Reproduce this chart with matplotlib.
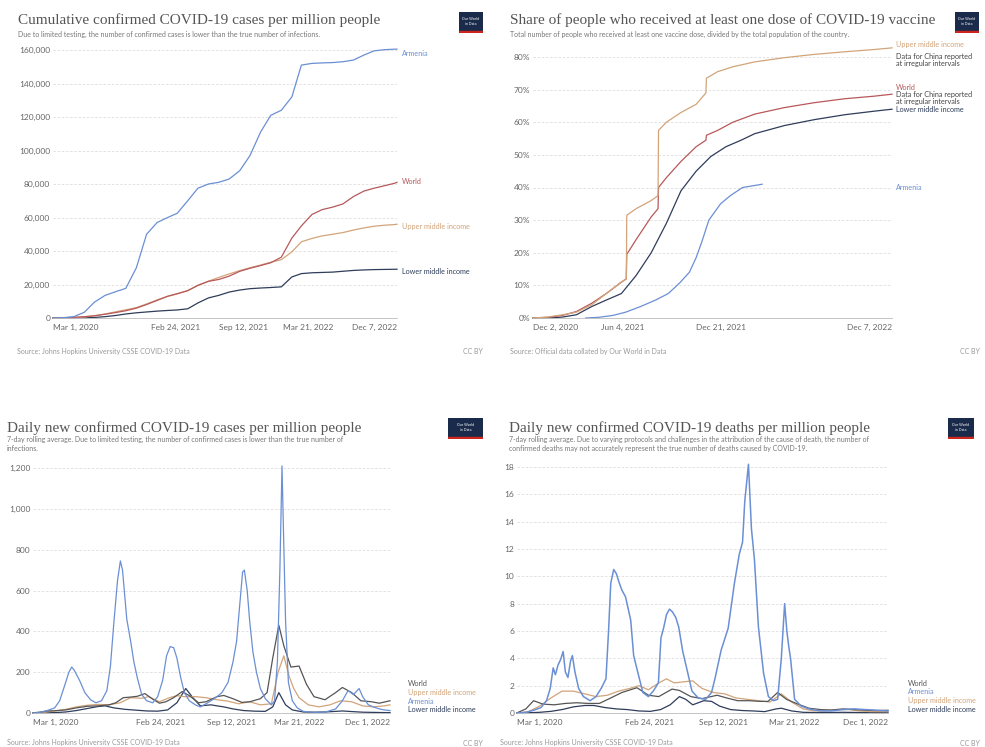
import matplotlib
matplotlib.use('Agg')
import matplotlib.pyplot as plt
import pandas as pd

W, H = 985, 747

# colours
C_ARM = '#6b8fd4'
C_WORLD = '#b8585a'
C_UPPER = '#d2a47a'
C_LOWER = '#2f3d5a'
C_WORLD2 = '#555555'

# ---------- cumulative cases per million ----------
cum_dates = list(pd.date_range('2020-03-01', '2022-12-01', freq='MS')) + [pd.Timestamp('2022-12-07')]
cum_armenia = [0, 200, 800, 3400, 9500, 13500, 15700, 17700, 30000, 50000, 57000, 60000,
               62500, 70000, 77500, 80000, 81000, 83000, 88000, 97000, 111000, 121000,
               124000, 132000, 151000, 152000, 152300, 152500, 153000, 154000, 157000,
               159500, 160200, 160500, 160500]
cum_world = [11, 120, 420, 780, 1340, 2230, 3250, 4330, 5880, 8040, 10500, 13000, 14500,
             16300, 19500, 21900, 23000, 25000, 27900, 29700, 31300, 33000, 36300, 47700,
             55000, 61800, 64700, 66200, 68100, 72500, 75800, 77500, 79000, 80500, 81000]
cum_upper = [0, 30, 200, 600, 1300, 2400, 3700, 4900, 6200, 8400, 10800, 12900, 14400,
             16400, 19500, 22000, 24200, 26300, 28300, 30000, 31600, 33300, 34800, 39500,
             45500, 47500, 49000, 50000, 51000, 52500, 53800, 54800, 55400, 55800, 56000]
cum_lower = [0, 5, 30, 120, 330, 800, 1500, 2400, 3100, 3600, 4100, 4500, 4800, 5500,
             9000, 12000, 13500, 15500, 16700, 17500, 17900, 18200, 18600, 24500, 26500,
             27000, 27200, 27400, 27900, 28400, 28700, 28900, 29000, 29100, 29100]

# ---------- share with at least one vaccine dose (%) ----------
vax_upper_dates = ['2020-12-02', '2021-01-01', '2021-02-01', '2021-03-01', '2021-04-01',
                   '2021-05-01', '2021-06-01', '2021-06-11', '2021-06-12', '2021-07-01',
                   '2021-08-01', '2021-08-15', '2021-08-16', '2021-09-01', '2021-10-01',
                   '2021-11-01', '2021-11-21', '2021-11-22', '2021-12-15', '2022-01-15',
                   '2022-03-01', '2022-05-01', '2022-07-01', '2022-09-01', '2022-11-01',
                   '2022-12-07']
vax_upper = [0, 0.3, 1.0, 1.8, 4.0, 7.5, 11.0, 12.0, 31.5, 33.5, 36.0, 37.5, 57.5, 60.0,
             63.0, 65.5, 69.0, 73.5, 75.5, 77.0, 78.5, 79.8, 80.8, 81.6, 82.3, 82.8]
vax_world_dates = vax_upper_dates
vax_world = [0, 0.2, 0.8, 2.0, 4.5, 7.5, 11.0, 12.0, 19.5, 24.0, 31.0, 33.5, 40.0, 43.0,
             48.0, 52.5, 54.5, 56.0, 57.5, 60.0, 62.5, 64.5, 66.0, 67.2, 68.0, 68.6]
vax_lower_dates = ['2020-12-02', '2021-01-15', '2021-02-01', '2021-03-01', '2021-04-01',
                   '2021-05-01', '2021-06-01', '2021-07-01', '2021-08-01', '2021-09-01',
                   '2021-10-01', '2021-11-01', '2021-12-01', '2022-01-01', '2022-02-01',
                   '2022-03-01', '2022-05-01', '2022-07-01', '2022-09-01', '2022-11-01',
                   '2022-12-07']
vax_lower = [0, 0.1, 0.3, 1.0, 3.5, 5.5, 7.5, 13.0, 20.0, 29.0, 39.0, 45.0, 49.5, 52.5,
             54.5, 56.5, 59.0, 60.8, 62.3, 63.4, 64.0]
vax_armenia_dates = ['2021-03-20', '2021-04-15', '2021-05-15', '2021-06-10', '2021-07-10',
                     '2021-08-10', '2021-09-05', '2021-09-28', '2021-10-18', '2021-11-01',
                     '2021-11-13', '2021-11-27', '2021-12-21', '2022-01-10', '2022-02-04',
                     '2022-03-16']
vax_armenia = [0.0, 0.2, 0.8, 1.8, 3.5, 5.5, 7.5, 10.7, 14.0, 18.5, 23.5, 30.0, 35.0,
               37.5, 40.0, 41.0]

# ---------- daily new cases per million ----------
cases_armenia_dates = ['2020-03-01', '2020-03-20', '2020-04-10', '2020-05-01', '2020-05-15',
                       '2020-06-01', '2020-06-10', '2020-06-18', '2020-06-25', '2020-07-10',
                       '2020-07-25', '2020-08-10', '2020-08-25', '2020-09-10', '2020-09-25',
                       '2020-10-05', '2020-10-15', '2020-10-25', '2020-11-02', '2020-11-08',
                       '2020-11-15', '2020-11-20', '2020-12-01', '2020-12-10', '2020-12-20',
                       '2021-01-01', '2021-01-15', '2021-02-01', '2021-02-15', '2021-03-01',
                       '2021-03-12', '2021-03-22', '2021-04-01', '2021-04-10', '2021-04-20',
                       '2021-05-01', '2021-05-15', '2021-06-01', '2021-06-15', '2021-07-01',
                       '2021-07-15', '2021-08-01', '2021-08-15', '2021-09-01', '2021-09-15',
                       '2021-09-25', '2021-10-05', '2021-10-12', '2021-10-17', '2021-10-25',
                       '2021-11-01', '2021-11-10', '2021-11-20', '2021-12-01', '2021-12-15',
                       '2022-01-01', '2022-01-10', '2022-01-18', '2022-01-25', '2022-01-31',
                       '2022-02-04', '2022-02-10', '2022-02-18', '2022-03-01', '2022-03-15',
                       '2022-04-01', '2022-05-01', '2022-06-01', '2022-07-01', '2022-07-20',
                       '2022-08-05', '2022-08-20', '2022-09-05', '2022-09-15', '2022-10-01',
                       '2022-10-15', '2022-11-01', '2022-11-15', '2022-12-01']
cases_armenia = [0, 3, 12, 25, 60, 150, 200, 225, 210, 160, 100, 65, 50, 60, 110, 230, 450,
                 650, 745, 700, 560, 460, 350, 250, 170, 90, 60, 50, 80, 160, 280, 325, 320,
                 270, 180, 100, 60, 40, 30, 45, 60, 80, 100, 150, 250, 350, 550, 690, 700,
                 600, 450, 300, 200, 120, 70, 40, 60, 250, 700, 1210, 900, 450, 150, 60, 25,
                 8, 3, 4, 20, 60, 110, 90, 120, 80, 40, 30, 20, 15, 12]
cases_world_dates = ['2020-03-01', '2020-03-20', '2020-04-10', '2020-05-01', '2020-06-01',
                     '2020-07-01', '2020-08-01', '2020-09-01', '2020-10-01', '2020-10-20',
                     '2020-11-10', '2020-12-01', '2020-12-20', '2021-01-10', '2021-02-01',
                     '2021-02-20', '2021-03-10', '2021-04-01', '2021-04-25', '2021-05-15',
                     '2021-06-10', '2021-07-01', '2021-08-01', '2021-08-20', '2021-09-15',
                     '2021-10-10', '2021-11-01', '2021-12-01', '2021-12-20', '2022-01-05',
                     '2022-01-22', '2022-02-05', '2022-02-25', '2022-03-20', '2022-04-10',
                     '2022-05-01', '2022-06-01', '2022-07-01', '2022-07-20', '2022-08-15',
                     '2022-09-10', '2022-10-10', '2022-11-01', '2022-12-01']
cases_world = [1, 4, 10, 11, 15, 25, 33, 35, 40, 50, 75, 78, 82, 95, 68, 48, 55, 75, 105, 85,
               50, 55, 80, 86, 70, 52, 55, 70, 100, 270, 430, 330, 225, 230, 140, 80, 65, 100,
               125, 100, 60, 55, 48, 60]
cases_upper_dates = ['2020-03-01', '2020-04-01', '2020-05-01', '2020-06-01', '2020-07-01',
                     '2020-08-01', '2020-09-01', '2020-10-01', '2020-11-01', '2020-12-01',
                     '2021-01-01', '2021-01-20', '2021-02-20', '2021-03-20', '2021-04-10',
                     '2021-05-01', '2021-06-01', '2021-07-01', '2021-08-01', '2021-09-01',
                     '2021-10-01', '2021-11-01', '2021-12-01', '2022-01-01', '2022-01-20',
                     '2022-02-05', '2022-02-20', '2022-03-05', '2022-03-20', '2022-04-15',
                     '2022-05-15', '2022-06-15', '2022-07-15', '2022-08-15', '2022-09-15',
                     '2022-10-15', '2022-11-15', '2022-12-01']
cases_upper = [0, 4, 10, 18, 30, 38, 42, 40, 50, 75, 72, 80, 55, 75, 85, 80, 80, 75, 65, 58,
               45, 55, 40, 45, 200, 280, 180, 120, 75, 40, 30, 40, 60, 55, 35, 30, 35, 40]
cases_lower_dates = ['2020-03-01', '2020-04-01', '2020-05-01', '2020-06-01', '2020-07-01',
                     '2020-08-01', '2020-09-01', '2020-09-20', '2020-10-15', '2020-11-15',
                     '2020-12-15', '2021-01-15', '2021-02-15', '2021-03-15', '2021-04-10',
                     '2021-05-05', '2021-05-25', '2021-06-15', '2021-07-15', '2021-08-01',
                     '2021-08-20', '2021-09-15', '2021-10-15', '2021-11-15', '2021-12-15',
                     '2022-01-05', '2022-01-22', '2022-02-10', '2022-03-01', '2022-04-01',
                     '2022-05-01', '2022-06-01', '2022-07-01', '2022-07-20', '2022-08-15',
                     '2022-09-15', '2022-10-15', '2022-11-15', '2022-12-01']
cases_lower = [0, 0.5, 2, 5, 12, 22, 32, 35, 25, 18, 14, 10, 9, 15, 50, 120, 75, 35, 40, 35,
               30, 20, 12, 9, 8, 30, 100, 40, 15, 5, 4, 5, 8, 10, 7, 4, 3, 2, 2]

# ---------- daily new deaths per million ----------
deaths_armenia_dates = ['2020-03-01', '2020-03-25', '2020-04-15', '2020-05-05', '2020-05-20',
                        '2020-05-30', '2020-06-07', '2020-06-13', '2020-06-20', '2020-06-27',
                        '2020-07-04', '2020-07-10', '2020-07-17', '2020-07-24', '2020-07-29',
                        '2020-08-05', '2020-08-15', '2020-08-28', '2020-09-15', '2020-10-01',
                        '2020-10-15', '2020-10-28', '2020-11-04', '2020-11-10', '2020-11-18',
                        '2020-11-25', '2020-12-02', '2020-12-10', '2020-12-20', '2021-01-03',
                        '2021-01-11', '2021-01-22', '2021-02-05', '2021-02-20', '2021-03-05',
                        '2021-03-19', '2021-03-26', '2021-04-02', '2021-04-10', '2021-04-18',
                        '2021-04-26', '2021-05-05', '2021-05-13', '2021-05-24', '2021-06-06',
                        '2021-06-18', '2021-07-05', '2021-07-25', '2021-08-10', '2021-08-20',
                        '2021-09-05', '2021-09-24', '2021-10-11', '2021-10-24', '2021-11-02',
                        '2021-11-08', '2021-11-18', '2021-11-26', '2021-12-04', '2021-12-15',
                        '2021-12-29', '2022-01-11', '2022-01-25', '2022-02-05', '2022-02-15',
                        '2022-02-24', '2022-03-02', '2022-03-07', '2022-03-12', '2022-03-23',
                        '2022-04-10', '2022-05-01', '2022-06-01', '2022-07-01', '2022-08-01',
                        '2022-09-01', '2022-10-01', '2022-11-01', '2022-12-01']
deaths_armenia = [0, 0.05, 0.2, 0.4, 0.9, 1.8, 3.3, 2.8, 3.5, 3.9, 4.5, 3.0, 2.6, 3.8, 4.2,
                  3.0, 1.8, 1.2, 0.9, 1.2, 1.8, 2.5, 6.0, 9.5, 10.5, 10.2, 9.6, 9.0, 8.5, 6.8,
                  4.2, 3.0, 1.5, 1.2, 1.6, 2.2, 5.5, 6.2, 7.2, 7.6, 7.4, 7.0, 6.3, 4.5, 3.0,
                  1.6, 1.1, 1.0, 1.5, 2.6, 4.6, 6.2, 9.5, 11.6, 12.5, 15.5, 18.2, 13.5, 11.3,
                  6.3, 2.9, 1.2, 0.9, 1.0, 4.0, 8.0, 6.0, 4.9, 4.0, 1.0, 0.5, 0.3, 0.15, 0.15,
                  0.25, 0.3, 0.25, 0.2, 0.15]
deaths_world_dates = ['2020-03-01', '2020-03-25', '2020-04-15', '2020-05-10', '2020-06-10',
                      '2020-07-10', '2020-08-10', '2020-09-10', '2020-10-10', '2020-11-10',
                      '2020-12-10', '2021-01-20', '2021-02-20', '2021-03-20', '2021-04-25',
                      '2021-05-15', '2021-06-15', '2021-07-15', '2021-08-25', '2021-09-20',
                      '2021-10-20', '2021-11-20', '2021-12-20', '2022-01-10', '2022-02-05',
                      '2022-03-01', '2022-04-01', '2022-05-01', '2022-06-01', '2022-07-01',
                      '2022-08-01', '2022-09-01', '2022-10-01', '2022-11-01', '2022-12-01']
deaths_world = [0.01, 0.3, 0.9, 0.65, 0.6, 0.7, 0.75, 0.7, 0.7, 1.1, 1.5, 1.85, 1.3, 1.2,
                1.75, 1.65, 1.2, 1.05, 1.3, 1.1, 0.9, 0.9, 0.85, 0.85, 1.5, 1.0, 0.65, 0.35,
                0.25, 0.22, 0.3, 0.25, 0.2, 0.18, 0.2]
deaths_upper_dates = ['2020-03-01', '2020-04-01', '2020-05-01', '2020-06-01', '2020-07-01',
                      '2020-08-01', '2020-09-01', '2020-10-01', '2020-11-01', '2020-12-01',
                      '2021-01-01', '2021-01-25', '2021-02-20', '2021-03-20', '2021-04-10',
                      '2021-05-01', '2021-06-01', '2021-06-20', '2021-07-15', '2021-08-15',
                      '2021-09-15', '2021-10-15', '2021-11-15', '2021-12-15', '2022-01-15',
                      '2022-02-15', '2022-03-15', '2022-04-15', '2022-05-15', '2022-06-15',
                      '2022-07-15', '2022-08-15', '2022-09-15', '2022-10-15', '2022-11-15',
                      '2022-12-01']
deaths_upper = [0, 0.1, 0.5, 1.1, 1.6, 1.6, 1.4, 1.2, 1.3, 1.6, 1.8, 2.0, 1.7, 2.2, 2.5, 2.2,
                2.3, 2.35, 1.8, 1.5, 1.4, 1.1, 1.0, 0.9, 0.8, 1.4, 0.8, 0.3, 0.15, 0.15, 0.25,
                0.25, 0.15, 0.1, 0.1, 0.1]
deaths_lower_dates = ['2020-03-01', '2020-04-01', '2020-05-01', '2020-06-01', '2020-07-01',
                      '2020-08-01', '2020-09-01', '2020-09-25', '2020-10-25', '2020-11-25',
                      '2020-12-25', '2021-01-25', '2021-02-25', '2021-03-25', '2021-04-20',
                      '2021-05-15', '2021-06-01', '2021-06-20', '2021-07-20', '2021-08-10',
                      '2021-09-01', '2021-10-01', '2021-11-01', '2021-12-01', '2022-01-01',
                      '2022-02-01', '2022-02-15', '2022-03-15', '2022-04-15', '2022-06-01',
                      '2022-08-01', '2022-10-01', '2022-12-01']
deaths_lower = [0, 0.02, 0.05, 0.12, 0.25, 0.45, 0.55, 0.55, 0.4, 0.3, 0.25, 0.15, 0.12,
                0.25, 0.6, 1.2, 1.0, 0.6, 0.9, 0.85, 0.5, 0.25, 0.18, 0.15, 0.1, 0.3, 0.35,
                0.15, 0.05, 0.03, 0.05, 0.03, 0.02]


fig = plt.figure(figsize=(W / 100, H / 100), dpi=100)
fig.patch.set_facecolor('white')


def add_ax(left, top, right, bottom):
    return fig.add_axes([left / W, 1 - bottom / H, (right - left) / W, (bottom - top) / H])


def ftext(x, y, s, **kw):
    kw.setdefault('family', 'Lato')
    return fig.text(x / W, 1 - y / H, s, **kw)


def style(ax, start, end, xticks, yticks, ylabels, ylim):
    ax.set_xlim(pd.Timestamp(start), pd.Timestamp(end))
    ax.set_ylim(*ylim)
    ax.set_yticks(yticks)
    ax.set_yticklabels(ylabels)
    ticks = [pd.Timestamp(t) for t in xticks]
    ax.set_xticks(ticks)
    ax.set_xticklabels([t.strftime('%b ') + str(t.day) + t.strftime(', %Y') for t in ticks])
    labs = ax.get_xticklabels()
    labs[0].set_ha('left')
    labs[-1].set_ha('right')
    ax.grid(axis='y', color='#dddddd', lw=0.6, ls=(0, (3, 2)))
    ax.set_axisbelow(True)
    for s in ['top', 'right', 'left']:
        ax.spines[s].set_visible(False)
    ax.spines['bottom'].set_color('#bbbbbb')
    ax.spines['bottom'].set_linewidth(0.6)
    ax.tick_params(axis='y', length=0, pad=2, labelsize=6, labelcolor='#666666')
    ax.tick_params(axis='x', length=0, pad=4, labelsize=6, labelcolor='#666666')
    for lab in ax.get_xticklabels() + ax.get_yticklabels():
        lab.set_family('Lato')


def line(ax, dates, vals, color, lw=0.9):
    ax.plot(pd.to_datetime(dates), vals, color=color, lw=lw, clip_on=False)


def logo(x, y, w=24, h=21):
    ax = fig.add_axes([x / W, 1 - (y + h) / H, w / W, h / H])
    ax.set_xlim(0, 1)
    ax.set_ylim(0, 1)
    ax.axis('off')
    ax.add_patch(plt.Rectangle((0, 0.1), 1, 0.9, color='#1a2a4a'))
    ax.add_patch(plt.Rectangle((0, 0), 1, 0.1, color='#ce261e'))
    ax.text(0.5, 0.55, 'Our World\nin Data', color='white', fontsize=2.6, ha='center',
            va='center', family='Lato', linespacing=1.1)


def label(ax, x, y, s, color, end=None):
    ftext(x, y, s, fontsize=5.2, color=color, va='center')
    if end is not None:
        ax.annotate('', xy=end, xycoords='data', xytext=((x - 2) / W, 1 - y / H),
                    textcoords='figure fraction',
                    arrowprops=dict(arrowstyle='-', color='#bbbbbb', lw=0.5,
                                    shrinkA=0, shrinkB=0))


# ---------- panel 1 ----------
ax1 = add_ax(53, 50, 397, 318)
line(ax1, cum_dates, cum_lower, C_LOWER)
line(ax1, cum_dates, cum_upper, C_UPPER)
line(ax1, cum_dates, cum_world, C_WORLD)
line(ax1, cum_dates, cum_armenia, C_ARM)
style(ax1, '2020-03-01', '2022-12-07',
      ['2020-03-01', '2021-02-24', '2021-09-12', '2022-03-21', '2022-12-07'],
      range(0, 160001, 20000), ['0'] + ['{:,}'.format(v) for v in range(20000, 160001, 20000)],
      (0, 160000))
label(ax1, 402, 53, 'Armenia', C_ARM)
label(ax1, 402, 182, 'World', C_WORLD)
label(ax1, 402, 226, 'Upper middle income', C_UPPER)
label(ax1, 402, 272, 'Lower middle income', C_LOWER)
ftext(18, 13, 'Cumulative confirmed COVID-19 cases per million people', family='Liberation Serif',
      fontsize=11, color='#555555', va='top')
ftext(18, 31, 'Due to limited testing, the number of confirmed cases is lower than the true number of infections.',
      fontsize=5, color='#777777', va='top')
ftext(17, 351, 'Source: Johns Hopkins University CSSE COVID-19 Data', fontsize=5, color='#999999', va='center')
ftext(483, 351, 'CC BY', fontsize=5, color='#999999', va='center', ha='right')
logo(459, 12)

# ---------- panel 2 ----------
ax2 = add_ax(533, 57, 892, 318)
line(ax2, vax_armenia_dates, vax_armenia, C_ARM)
line(ax2, vax_lower_dates, vax_lower, C_LOWER)
line(ax2, vax_world_dates, vax_world, C_WORLD)
line(ax2, vax_upper_dates, vax_upper, C_UPPER)
style(ax2, '2020-12-02', '2022-12-07',
      ['2020-12-02', '2021-06-04', '2021-12-21', '2022-12-07'],
      range(0, 81, 10), ['{}%'.format(v) for v in range(0, 81, 10)], (0, 80))
label(ax2, 896, 45, 'Upper middle income', C_UPPER)
ftext(896, 53, 'Data for China reported\nat irregular intervals', fontsize=5.2, color='#444444',
      va='top', linespacing=1.0)
label(ax2, 896, 87, 'World', C_WORLD)
ftext(896, 91, 'Data for China reported\nat irregular intervals', fontsize=5.2, color='#444444',
      va='top', linespacing=1.0)
label(ax2, 896, 110, 'Lower middle income', C_LOWER)
label(ax2, 896, 187, 'Armenia', C_ARM)
ftext(510, 13, 'Share of people who received at least one dose of COVID-19 vaccine',
      family='Liberation Serif', fontsize=11, color='#555555', va='top')
ftext(510, 31, 'Total number of people who received at least one vaccine dose, divided by the total population of the country.',
      fontsize=5, color='#777777', va='top')
ftext(510, 351, 'Source: Official data collated by Our World in Data', fontsize=5, color='#999999', va='center')
ftext(980, 351, 'CC BY', fontsize=5, color='#999999', va='center', ha='right')
logo(955, 12)

# ---------- panel 3 ----------
ax3 = add_ax(33, 468, 390, 713)
line(ax3, cases_lower_dates, cases_lower, C_LOWER)
line(ax3, cases_upper_dates, cases_upper, C_UPPER)
line(ax3, cases_world_dates, cases_world, C_WORLD2)
line(ax3, cases_armenia_dates, cases_armenia, C_ARM)
style(ax3, '2020-03-01', '2022-12-01',
      ['2020-03-01', '2021-02-24', '2021-09-12', '2022-03-21', '2022-12-01'],
      range(0, 1201, 200), ['0'] + ['{:,}'.format(v) for v in range(200, 1201, 200)], (0, 1200))
label(ax3, 408, 683, 'World', C_WORLD2)
label(ax3, 408, 692, 'Upper middle income', C_UPPER)
label(ax3, 408, 701, 'Armenia', C_ARM)
label(ax3, 408, 710, 'Lower middle income', C_LOWER)
ftext(7, 421, 'Daily new confirmed COVID-19 cases per million people', family='Liberation Serif',
      fontsize=11, color='#555555', va='top')
ftext(7, 436, '7-day rolling average. Due to limited testing, the number of confirmed cases is lower than the true number of\ninfections.',
      fontsize=5, color='#777777', va='top', linespacing=1.3)
ftext(7, 743, 'Source: Johns Hopkins University CSSE COVID-19 Data', fontsize=5, color='#999999', va='center')
ftext(483, 743, 'CC BY', fontsize=5, color='#999999', va='center', ha='right')
logo(448, 418, w=35)

# ---------- panel 4 ----------
ax4 = add_ax(517, 467, 888, 713)
line(ax4, deaths_lower_dates, deaths_lower, C_LOWER)
line(ax4, deaths_upper_dates, deaths_upper, C_UPPER)
line(ax4, deaths_world_dates, deaths_world, C_WORLD2)
line(ax4, deaths_armenia_dates, deaths_armenia, C_ARM, lw=1.1)
style(ax4, '2020-03-01', '2022-12-01',
      ['2020-03-01', '2021-02-24', '2021-09-12', '2022-03-21', '2022-12-01'],
      range(0, 19, 2), [str(v) for v in range(0, 19, 2)], (0, 18))
label(ax4, 908, 683, 'World', C_WORLD2)
label(ax4, 908, 692, 'Armenia', C_ARM)
label(ax4, 908, 701, 'Upper middle income', C_UPPER)
label(ax4, 908, 710, 'Lower middle income', C_LOWER)
ftext(509, 421, 'Daily new confirmed COVID-19 deaths per million people', family='Liberation Serif',
      fontsize=11, color='#555555', va='top')
ftext(509, 436, '7-day rolling average. Due to varying protocols and challenges in the attribution of the cause of death, the number of\nconfirmed deaths may not accurately represent the true number of deaths caused by COVID-19.',
      fontsize=5, color='#777777', va='top', linespacing=1.3)
ftext(500, 743, 'Source: Johns Hopkins University CSSE COVID-19 Data', fontsize=5, color='#999999', va='center')
ftext(980, 743, 'CC BY', fontsize=5, color='#999999', va='center', ha='right')
logo(948, 418, w=26)

fig.savefig('out.png', dpi=100, facecolor='white')
